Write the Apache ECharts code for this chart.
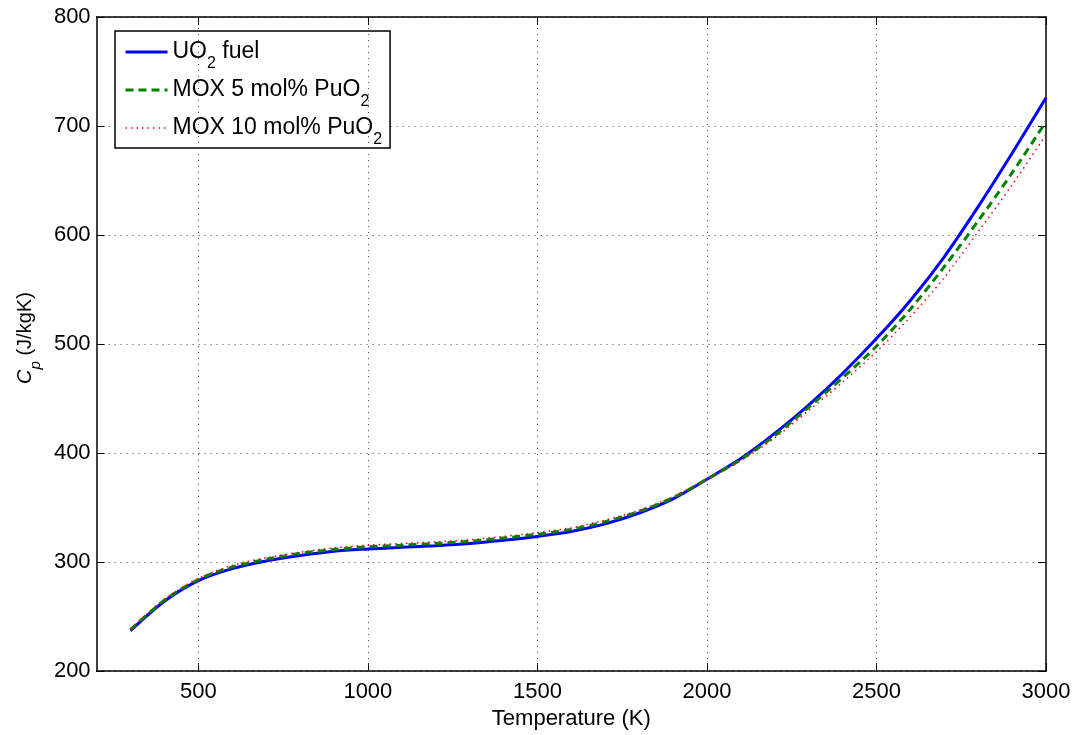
<!DOCTYPE html>
<html><head><meta charset="utf-8">
<script src="https://cdn.jsdelivr.net/npm/echarts@6/dist/echarts.min.js"></script>
<style>html,body{margin:0;padding:0;background:#fff}#c{width:1084px;height:735px}</style>
</head><body><div id="c"></div>
<script>
const temps = [300,400,500,600,700,800,900,1000,1100,1200,1300,1400,1500,1600,1700,1800,1900,2000,2100,2200,2300,2400,2500,2600,2700,2800,2900,3000];
const uo2   = [237,264,283,294,301,306,310,312,313.5,315,317,320,323.5,328,335,345,358,376,395,418,444,473,505,540,580,626,675,726];
const mox5  = [238,265,284,295.5,302.5,308,311.5,314,315.5,317,319,322,325.5,330,337,346.5,359,376,394,416,442,469,498,532,571,613,657,704];
const mox10 = [238.5,266,285,297,304,309,313,315.5,317,318.5,320.5,323.5,327,331.5,338.5,347.5,360,376,393,414,439,465,493,525,561,603,646,692];
const xTickVals = [500,1000,1500,2000,2500,3000];
const xGridVals = [500,1000,1500,2000,2500];
const seriesNames = ['UO2 fuel','MOX 5 mol% PuO2','MOX 10 mol% PuO2'];
const legendLabels = {'UO2 fuel':'UO{s|2} fuel','MOX 5 mol% PuO2':'MOX 5 mol% PuO{s|2}','MOX 10 mol% PuO2':'MOX 10 mol% PuO{s|2}'};
const seriesColors = ['#0000ff','#008000','#ff0000'];
const legendWidths = [3,3,1.5];
const legendDash = ['solid',[8,5],[1.5,4]];

const FONT = "'Liberation Sans', Arial, Helvetica, sans-serif";
const pair = arr => temps.map((t,i)=>[t,arr[i]]);
const gridDot = {type:[1,5], color:'#444', width:1};
const fmt = v => String(v);

const chart = echarts.init(document.getElementById('c'), null, {renderer:'canvas'});
chart.setOption({
  animation:false,
  backgroundColor:'#fff',
  grid:{left:94, right:38, top:17, bottom:58, containLabel:false},
  legend:{
    show:true, orient:'vertical', left:115, top:31,
    data:seriesNames.map((n,i)=>({name:n, itemStyle:{opacity:0},
      lineStyle:{color:seriesColors[i], width:legendWidths[i], type:legendDash[i], opacity:1}})),
    selectedMode:false,
    itemWidth:42, itemHeight:14, itemGap:-2,
    padding:[1,8,0,9],
    borderColor:'#000', borderWidth:1.5, backgroundColor:'#fff',
    formatter: n => legendLabels[n],
    textStyle:{fontFamily:FONT, fontSize:23, color:'#000', lineHeight:24,
      rich:{s:{fontFamily:FONT, fontSize:16, color:'#000', lineHeight:16, padding:[24,0,0,0]}}}
  },
  xAxis:[{
    type:'value', min:200, max:3000, position:'bottom',
    name:'Temperature (K)', nameLocation:'middle', nameGap:32,
    nameTextStyle:{fontFamily:FONT, fontSize:22, color:'#000'},
    axisLine:{show:true, lineStyle:{color:'#000', width:1.5}},
    axisTick:{show:true, inside:true, length:8, customValues:xTickVals, lineStyle:{color:'#000'}},
    axisLabel:{show:true, customValues:xTickVals, formatter:fmt, fontFamily:FONT, fontSize:22, color:'#000', margin:10},
    splitLine:{show:false}
  },{
    type:'value', min:200, max:3000, position:'top',
    axisLine:{show:true, lineStyle:{color:'#000', width:1.5}},
    axisTick:{show:true, inside:true, length:8, customValues:xTickVals, lineStyle:{color:'#000'}},
    axisLabel:{show:false}, splitLine:{show:false}
  }],
  yAxis:[{
    type:'value', min:200, max:800, interval:100, position:'left',
    name:'{i|C}{s|p} (J/kgK)', nameLocation:'middle', nameRotate:90, nameGap:58,
    nameTextStyle:{fontFamily:FONT, fontSize:20, color:'#000', lineHeight:22, padding:[0,0,0,12],
      rich:{i:{fontFamily:FONT, fontSize:20, fontStyle:'italic', color:'#000', lineHeight:22},
            s:{fontFamily:FONT, fontSize:15, fontStyle:'italic', color:'#000', lineHeight:15, padding:[20,0,0,0]}}},
    axisLine:{show:true, lineStyle:{color:'#000', width:1.5}},
    axisTick:{show:true, inside:true, length:8, lineStyle:{color:'#000'}},
    axisLabel:{show:true, formatter:fmt, fontFamily:FONT, fontSize:22, color:'#000', margin:6},
    splitLine:{show:true, lineStyle:gridDot}
  },{
    type:'value', min:200, max:800, interval:100, position:'right',
    axisLine:{show:true, lineStyle:{color:'#000', width:1.5}},
    axisTick:{show:true, inside:true, length:8, lineStyle:{color:'#000'}},
    axisLabel:{show:false}, splitLine:{show:false}
  }],
  series:[
    {type:'line', name:'_grid', data:[], silent:true, z:1,
     markLine:{silent:true, symbol:['none','none'], label:{show:false}, lineStyle:gridDot,
       emphasis:{disabled:true}, data:xGridVals.map(v=>({xAxis:v}))}},
    {type:'line', name:seriesNames[0], data:pair(uo2), smooth:0.3, showSymbol:false, symbol:'none', z:3,
     lineStyle:{color:seriesColors[0], width:3, type:'solid'}, itemStyle:{color:seriesColors[0]}},
    {type:'line', name:seriesNames[1], data:pair(mox5), smooth:0.3, showSymbol:false, symbol:'none', z:4,
     lineStyle:{color:seriesColors[1], width:3, type:[8,5]}, itemStyle:{color:seriesColors[1]}},
    {type:'line', name:seriesNames[2], data:pair(mox10), smooth:0.3, showSymbol:false, symbol:'none', z:5,
     lineStyle:{color:seriesColors[2], width:1.5, type:[1.5,4]}, itemStyle:{color:seriesColors[2]}}
  ]
});
</script></body></html>
